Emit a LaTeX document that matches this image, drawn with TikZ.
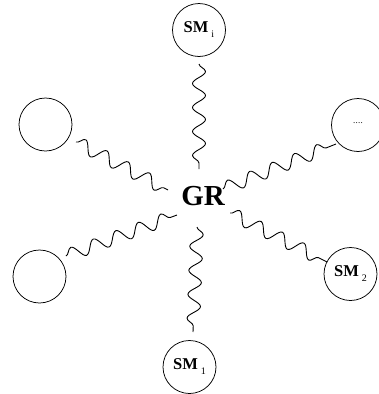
\documentclass[tikz,border=0pt]{standalone}
\usepackage{fontspec}
\setmainfont{Liberation Serif}
\usetikzlibrary{decorations.pathmorphing}
\begin{document}
\begin{tikzpicture}[x=1pt,y=-1pt,
  sm/.style={draw, circle, minimum size=53pt, inner sep=0pt, line width=0.75pt},
  wave/.style={decorate, decoration={snake, segment length=24pt, amplitude=6.5pt}, line width=0.9pt},
  smtext/.style={font=\fontsize{16.5}{17}\selectfont\bfseries},
  sub/.style={}]
\useasboundingbox (0,0) rectangle (378,394);

% central label
\node[font=\fontsize{29}{30}\selectfont\bfseries] (gr) at (203,196) {GR};

% surrounding circles
\node[sm, smtext] (smi) at (199,30) {SM\kern3pt\raisebox{-5pt}{\fontsize{10}{10}\selectfont\mdseries i}};
\node[sm] (ul) at (45.5,124.5) {};
\node[sm] (ll) at (39.5,276.5) {};
\node[sm, font=\fontsize{9}{9}\selectfont] (dots) at (358,125) {\raisebox{4pt}{.\kern0.3pt.\kern0.3pt.\kern0.3pt.}};
\node[sm, smtext] (sm2) at (350.5,274) {SM\kern3pt\raisebox{-5pt}{\fontsize{10}{10}\selectfont\mdseries 2}};
\node[sm, smtext] (sm1) at (189.5,367) {SM\kern3pt\raisebox{-5pt}{\fontsize{10}{10}\selectfont\mdseries 1}};

% ends of the wavy links
\coordinate (smi-a) at (199,64);   \coordinate (smi-b) at (199,169);
\coordinate (ul-a)  at (76,142);   \coordinate (ul-b)  at (168,190);
\coordinate (ll-a)  at (66,256);   \coordinate (ll-b)  at (177,215);
\coordinate (dots-a) at (336,144); \coordinate (dots-b) at (223,189);
\coordinate (sm2-a) at (327,262);  \coordinate (sm2-b) at (230,213);
\coordinate (sm1-a) at (193,332);  \coordinate (sm1-b) at (197,227);

\draw[wave] (smi-a) -- (smi-b);
\draw[wave] (ul-a) -- (ul-b);
\draw[wave] (ll-a) -- (ll-b);
\draw[wave] (dots-b) -- (dots-a);
\draw[wave] (sm2-b) -- (sm2-a);
\draw[wave] (sm1-b) -- (sm1-a);
\end{tikzpicture}
\end{document}
